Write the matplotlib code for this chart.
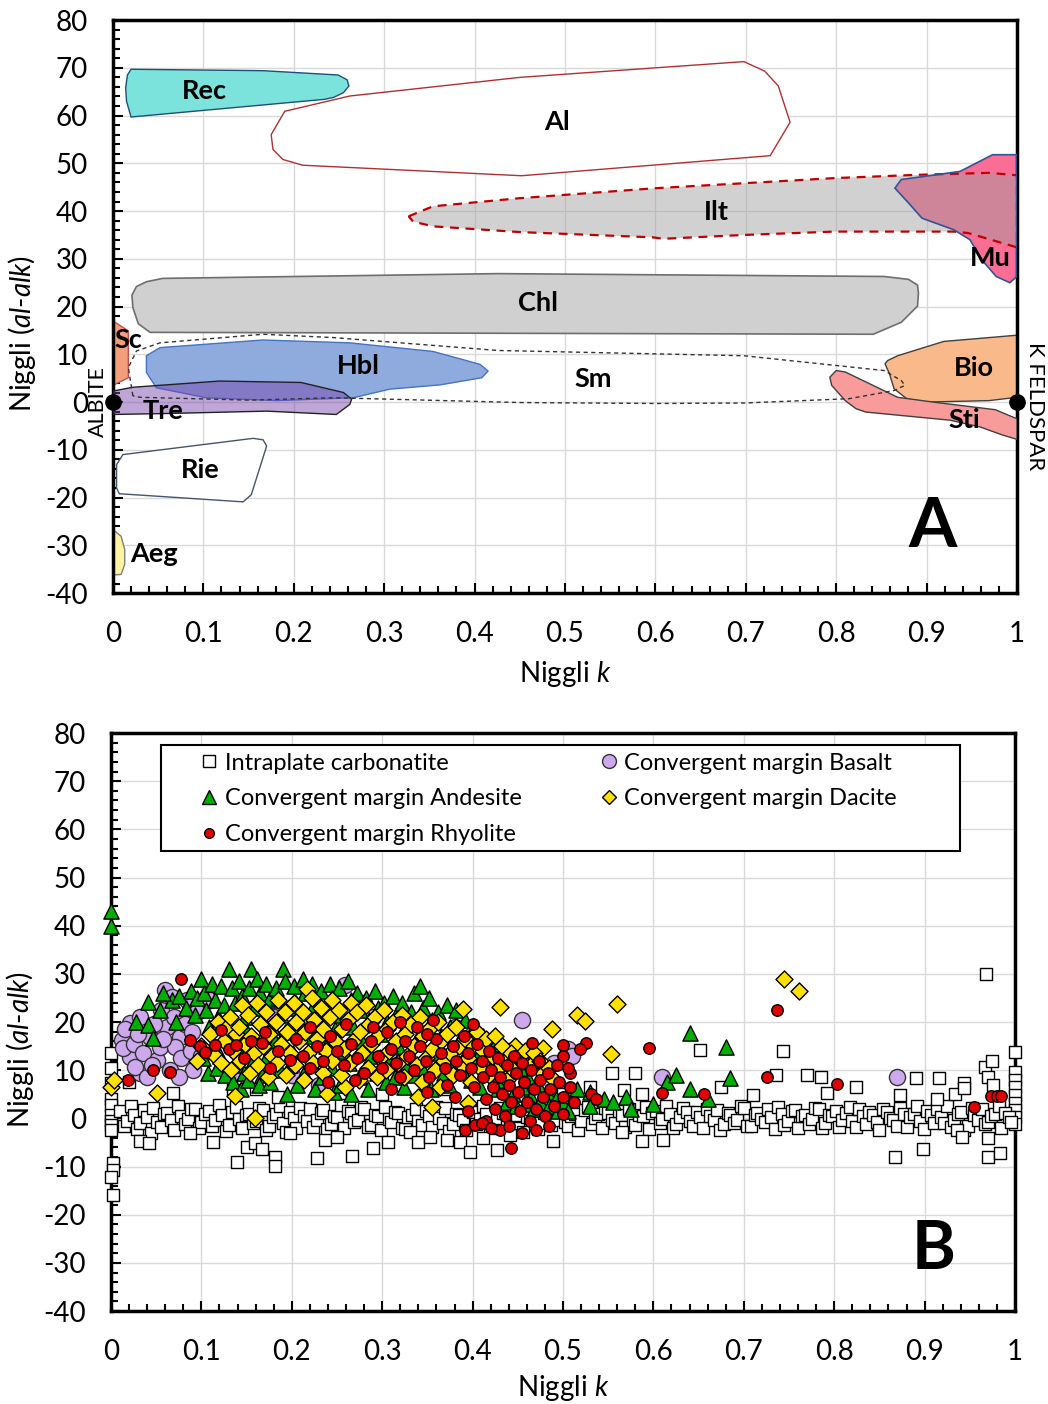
import matplotlib
matplotlib.use('Agg')
import matplotlib.pyplot as plt
from matplotlib.patches import Polygon, Rectangle
from matplotlib.lines import Line2D
from matplotlib.ticker import MultipleLocator, FuncFormatter
import numpy as np

plt.rcParams['font.family'] = ['Lato', 'DejaVu Sans']
plt.rcParams['mathtext.fontset'] = 'custom'
plt.rcParams['mathtext.rm'] = 'Lato'
plt.rcParams['mathtext.it'] = 'Lato:italic'
plt.rcParams['axes.unicode_minus'] = False

# ---------------- Panel A: mineral fields (Niggli k, al-alk) ----------------
rec_field = [(0.020, 69.7), (0.166, 69.4), (0.249, 68.5), (0.259, 67.5), (0.261, 66.2), (0.255, 64.8),
             (0.244, 63.8), (0.234, 63.4), (0.020, 59.7), (0.015, 63.0), (0.014, 65.8), (0.016, 68.5)]
al_field = [(0.190, 60.9), (0.262, 64.1), (0.450, 68.0), (0.698, 71.3), (0.721, 69.3), (0.736, 66.2),
            (0.749, 58.6), (0.727, 51.6), (0.452, 47.4), (0.210, 49.6), (0.188, 50.8), (0.177, 52.9),
            (0.175, 56.0)]
ilt_field = [(0.327, 38.9), (0.354, 41.0), (0.450, 42.7), (0.601, 44.8), (0.798, 46.9), (0.891, 47.6),
             (0.969, 48.0), (1.0, 47.5), (1.0, 32.4), (0.946, 35.4), (0.930, 35.7), (0.798, 35.7),
             (0.698, 35.0), (0.609, 34.2), (0.597, 34.5), (0.450, 35.6), (0.354, 36.8), (0.332, 37.8)]
mu_field = [(0.937, 48.3), (0.973, 51.8), (1.0, 51.8), (1.0, 26.3), (0.992, 25.0), (0.977, 26.3),
            (0.961, 29.8), (0.948, 34.0), (0.930, 36.1), (0.895, 38.5), (0.880, 41.7), (0.865, 44.8),
            (0.872, 46.6)]
chl_field = [(0.055, 25.9), (0.426, 26.9), (0.853, 26.3), (0.880, 25.7), (0.890, 24.5), (0.891, 22.8),
             (0.890, 20.1), (0.872, 16.7), (0.841, 14.2), (0.041, 14.6), (0.028, 16.4), (0.022, 19.8),
             (0.021, 22.4), (0.026, 24.2), (0.037, 25.2)]
sc_field = [(0.0, 17.0), (0.017, 14.9), (0.017, 5.1), (0.0, 3.5)]
sm_field = [(0.022, 1.3), (0.017, 7.2), (0.026, 10.7), (0.052, 12.4), (0.166, 14.2), (0.244, 13.5),
            (0.426, 10.8), (0.698, 9.7), (0.853, 6.6), (0.872, 4.5), (0.876, 3.5), (0.864, 2.4),
            (0.814, 0.7), (0.698, -0.2), (0.603, -0.3), (0.450, -0.1), (0.244, 0.9), (0.151, 0.4),
            (0.030, 1.0)]
hbl_field = [(0.037, 9.7), (0.052, 11.4), (0.166, 13.0), (0.262, 12.4), (0.354, 10.6), (0.406, 7.9),
             (0.415, 6.5), (0.408, 5.1), (0.362, 3.6), (0.306, 2.7), (0.266, 0.9), (0.181, 0.3),
             (0.103, 0.9), (0.048, 3.0), (0.037, 6.2)]
tre_field = [(0.0, 2.3), (0.022, 3.1), (0.118, 4.4), (0.208, 4.1), (0.255, 2.0), (0.264, 0.6),
             (0.262, -0.5), (0.247, -2.6), (0.170, -1.9), (0.059, -2.4), (0.0, -2.6)]
rie_field = [(0.011, -11.0), (0.155, -7.6), (0.166, -7.9), (0.170, -9.2), (0.153, -19.4), (0.144, -20.9),
             (0.007, -19.2), (0.004, -18.0), (0.004, -13.1)]
aeg_field = [(0.0, -26.7), (0.009, -28.1), (0.013, -30.9), (0.013, -34.0), (0.009, -36.1), (0.0, -36.2)]
bio_field = [(0.857, 8.7), (0.868, 9.7), (0.919, 12.7), (1.0, 14.0), (1.0, 1.0), (0.969, 0.3),
             (0.899, 0.0), (0.878, 0.7), (0.864, 2.8), (0.859, 5.9), (0.854, 8.0)]
sti_field = [(0.800, 6.6), (0.810, 6.3), (0.868, 1.0), (0.907, 0.0), (0.976, -1.6), (1.0, -3.5),
             (1.0, -7.8), (0.984, -6.9), (0.959, -5.2), (0.926, -3.8), (0.833, -2.1), (0.822, -1.4),
             (0.810, 0.3), (0.795, 3.5), (0.793, 5.2)]

field_labels = ['Rec', 'Al', 'Ilt', 'Mu', 'Chl', 'Sc', 'Hbl', 'Sm', 'Bio', 'Tre', 'Sti', 'Rie', 'Aeg']
label_k = [0.101, 0.491, 0.667, 0.970, 0.470, 0.016, 0.272, 0.531, 0.952, 0.055, 0.942, 0.096, 0.045]
label_al_alk = [65.1, 58.6, 39.8, 30.2, 20.7, 13.0, 7.5, 4.8, 7.1, -1.9, -3.8, -14.2, -31.8]

# ---------------- Panel B: samples ----------------
carbonatite = [
    # column at k = 0
    (0.0, 13.6), (0.0, 10.5), (0.0, 7.3), (0.0, 4.0), (0.0, 2.8), (0.0, 0.6), (0.0, -0.5), (0.0, -1.4),
    (0.0, -2.4), (0.002, -9.3), (0.002, -10.8), (0.0, -12.2), (0.002, -15.9),
    # column at k = 1
    (1.0, 13.8), (1.0, 9.7), (1.0, 7.9), (1.0, 6.5), (1.0, 4.8), (1.0, 3.1), (1.0, 1.7), (1.0, 0.3), (1.0, -1.1),
    # main band
    (0.010, 1.5), (0.014, -1.5), (0.018, -0.5), (0.022, 2.5), (0.025, 0.8), (0.029, -2.2), (0.032, -1.0),
    (0.036, 1.8), (0.040, 0.3), (0.044, -3.0), (0.047, 2.2), (0.051, -0.8), (0.055, -1.8), (0.059, 0.9),
    (0.062, 1.2), (0.066, -0.3), (0.070, -2.5), (0.074, 2.6), (0.078, 0.5), (0.082, -1.2), (0.085, -0.2),
    (0.089, 1.9), (0.093, 2.0), (0.097, -2.0), (0.100, -0.8), (0.104, 0.9), (0.108, 1.6), (0.112, -1.6),
    (0.115, -0.4), (0.119, 2.8), (0.123, 0.7), (0.127, -2.6), (0.130, -1.3), (0.134, 1.3), (0.138, 2.4),
    (0.142, -0.2), (0.145, -2.1), (0.149, 0.6), (0.153, 1.0), (0.157, -1.0), (0.160, -0.5), (0.164, 2.1),
    (0.168, 1.8), (0.172, -2.4), (0.175, -1.5), (0.179, 0.2), (0.183, 0.9), (0.187, 2.5), (0.190, -0.9),
    (0.194, -2.8), (0.198, 1.4), (0.202, 0.1), (0.205, -1.9), (0.209, 2.2), (0.213, 0.4), (0.217, -0.6),
    (0.220, 2.0), (0.224, -1.8), (0.228, -0.3), (0.232, 1.1), (0.235, 1.7), (0.239, -2.3), (0.243, -1.1),
    (0.247, 0.5), (0.250, 0.2), (0.254, 2.7), (0.258, -2.0), (0.262, 1.5), (0.265, 1.1), (0.269, -0.7),
    (0.273, -0.4), (0.277, 2.3), (0.280, 1.9), (0.284, -1.7), (0.288, -1.4), (0.292, 0.7), (0.295, 0.5),
    (0.299, -2.5), (0.303, 2.3), (0.307, -0.1), (0.310, -0.8), (0.314, 1.4), (0.318, 1.2), (0.322, -1.9),
    (0.325, -2.2), (0.329, 0.3), (0.333, 0.8), (0.337, 2.0), (0.340, -0.6), (0.344, -1.3), (0.348, 1.6),
    (0.352, 0.4), (0.355, -1.7), (0.359, 2.4), (0.363, 0.1), (0.367, -0.9), (0.370, 2.1), (0.374, -2.6),
    (0.378, -1.2), (0.382, 1.0), (0.385, 0.6), (0.389, -0.4), (0.393, -2.4), (0.397, 1.8), (0.400, 1.3),
    (0.404, -1.1), (0.408, -0.2), (0.412, 2.6), (0.415, 0.9), (0.419, -2.0), (0.423, -1.5), (0.427, 0.0),
    (0.430, 2.2), (0.434, 1.2), (0.438, -0.7), (0.442, -1.6), (0.445, 1.5), (0.449, 0.6), (0.453, -2.1),
    (0.457, 2.0), (0.460, 0.3), (0.464, -0.5), (0.468, 1.8), (0.472, -2.2), (0.475, -1.0), (0.479, 1.1),
    (0.483, 0.7), (0.487, -1.4), (0.490, -0.3), (0.494, 2.4), (0.498, 2.0), (0.502, -0.8), (0.505, -1.6),
    (0.509, 0.5), (0.513, 1.0), (0.517, -2.5), (0.520, -0.5), (0.524, 1.7), (0.528, 2.4), (0.532, -1.2),
    (0.535, 0.0), (0.539, 0.9), (0.543, -2.0), (0.547, 2.1), (0.550, 1.2), (0.554, -0.3), (0.558, -0.9),
    (0.562, 1.5), (0.565, 0.6), (0.569, -1.8), (0.573, 2.0), (0.577, -0.6), (0.580, -1.4), (0.584, 0.8),
    (0.588, 0.4), (0.592, 2.3), (0.595, -2.3), (0.599, 1.1), (0.603, 1.6), (0.607, -1.0), (0.610, -0.1),
    (0.614, 2.6), (0.618, 0.9), (0.622, -2.1), (0.625, -1.2), (0.629, 0.3), (0.633, 2.2), (0.637, 1.4),
    (0.640, -0.6), (0.644, -1.5), (0.648, 1.4), (0.652, 0.2), (0.655, -1.9), (0.659, 2.0), (0.663, 0.5),
    (0.667, -0.4), (0.670, 1.7), (0.674, -2.4), (0.678, -1.1), (0.682, 1.2), (0.685, 0.8), (0.689, -0.9),
    (0.693, -0.4), (0.697, 2.5), (0.700, 2.1), (0.704, -1.6), (0.708, -1.5), (0.712, 0.6), (0.715, 1.1),
    (0.719, -0.2), (0.723, -0.7), (0.727, 1.9), (0.730, 0.2), (0.734, -2.3), (0.738, 2.3), (0.742, 0.9),
    (0.745, -1.3), (0.749, -0.6), (0.753, 1.5), (0.757, 1.7), (0.760, -2.1), (0.764, 0.4), (0.768, 0.7),
    (0.772, -1.2), (0.775, -0.2), (0.779, 2.2), (0.783, 1.9), (0.787, -2.0), (0.790, -0.9), (0.794, 0.8),
    (0.798, 0.4), (0.802, 1.5), (0.805, -1.7), (0.809, -0.3), (0.813, 1.2), (0.817, 2.4), (0.820, -0.5),
    (0.824, -1.8), (0.828, 2.0), (0.832, 0.5), (0.835, -1.2), (0.839, 1.3), (0.843, 0.6), (0.847, -0.8),
    (0.850, -2.4), (0.854, 2.0), (0.858, 1.4), (0.862, 0.0), (0.865, -0.3), (0.869, -1.5), (0.873, 2.2),
    (0.877, 1.0), (0.880, -1.8), (0.884, 0.3), (0.888, 0.9), (0.892, 2.6), (0.895, -0.6), (0.899, -2.2),
    (0.903, 1.6), (0.907, 0.7), (0.910, -1.0), (0.914, 1.9), (0.918, 0.2), (0.922, -0.9), (0.925, 2.5),
    (0.929, -1.7), (0.933, -0.4), (0.937, 0.9), (0.940, 1.3), (0.944, -2.4), (0.948, -1.5), (0.952, 2.2),
    (0.955, 0.6), (0.959, -0.3), (0.963, 1.9), (0.967, -1.1), (0.970, -0.8), (0.974, 0.4), (0.978, 0.9),
    (0.982, 2.6), (0.985, -2.0), (0.989, 1.2), (0.993, 0.3), (0.996, -0.7),
    # scattered above the band
    (0.968, 30.0), (0.652, 14.2), (0.743, 14.0), (0.554, 9.4), (0.736, 9.0), (0.770, 9.0), (0.785, 8.6),
    (0.824, 6.5), (0.891, 8.4), (0.916, 8.4), (0.944, 7.3), (0.967, 10.7), (0.975, 11.9), (0.970, 8.6),
    (0.976, 6.9), (0.568, 5.9), (0.587, 5.0), (0.675, 6.5), (0.710, 4.8), (0.792, 5.2), (0.873, 4.8),
    (0.914, 4.0), (0.934, 5.0), (0.944, 6.3), (0.020, 7.5), (0.069, 5.3), (0.135, 5.9), (0.160, 6.0),
    (0.185, 4.5), (0.240, 6.5), (0.300, 5.0), (0.320, 7.0), (0.370, 6.0), (0.450, 4.0), (0.500, 5.0),
    (0.530, 6.5), (0.580, 9.5),
    # scattered below the band
    (0.032, -4.7), (0.042, -5.1), (0.087, -3.0), (0.113, -4.9), (0.139, -9.1), (0.181, -8.0), (0.181, -9.9),
    (0.150, -5.9), (0.159, -5.1), (0.167, -6.4), (0.198, -3.0), (0.228, -8.2), (0.237, -4.5), (0.250, -3.9),
    (0.267, -7.8), (0.290, -6.2), (0.306, -4.9), (0.331, -2.8), (0.340, -4.9), (0.353, -3.9), (0.372, -4.5),
    (0.386, -4.9), (0.397, -7.0), (0.411, -4.1), (0.427, -6.6), (0.441, -3.5), (0.456, -2.8), (0.489, -4.7),
    (0.587, -4.7), (0.611, -4.5), (0.867, -8.0), (0.898, -6.4), (0.970, -8.0), (0.983, -7.2), (0.565, -2.8),
    (0.936, -2.4), (0.941, -3.9), (0.970, -4.1)]

basalt = [
    (0.012, 16.3), (0.021, 19.8), (0.032, 21.0), (0.021, 12.7), (0.032, 9.4), (0.051, 12.1), (0.060, 26.6),
    (0.067, 25.2), (0.043, 16.9), (0.054, 14.8), (0.076, 16.9), (0.091, 10.0), (0.065, 10.0), (0.084, 24.6),
    (0.071, 14.8), (0.027, 10.7), (0.040, 8.6), (0.062, 19.0), (0.013, 14.6), (0.015, 18.5), (0.025, 15.5),
    (0.035, 13.5), (0.045, 11.0), (0.048, 19.5), (0.055, 22.5), (0.070, 21.0), (0.078, 12.5), (0.082, 19.5),
    (0.088, 14.0), (0.030, 17.5), (0.058, 16.5), (0.075, 8.5), (0.090, 18.0), (0.095, 22.0), (0.100, 13.0),
    (0.105, 25.0), (0.110, 24.5), (0.140, 9.5), (0.180, 21.0), (0.200, 9.0), (0.230, 7.0), (0.259, 27.7),
    (0.280, 24.0), (0.290, 21.0), (0.310, 12.0), (0.330, 20.0), (0.380, 19.0), (0.400, 17.5), (0.440, 14.0),
    (0.455, 20.5), (0.460, 13.5), (0.490, 11.5), (0.505, 14.5), (0.510, 13.0), (0.610, 8.5), (0.870, 8.5)]

andesite = [
    (0.0, 43), (0.0, 40),
    (0.028, 20.1), (0.041, 24.2), (0.054, 22.5), (0.067, 24.6), (0.041, 19.4), (0.047, 16.7),
    (0.058, 26), (0.075, 25.5), (0.072, 20), (0.083, 23), (0.088, 26.5), (0.093, 21.5), (0.095, 25),
    (0.10, 29), (0.103, 26), (0.105, 22.5), (0.108, 19), (0.102, 12.5), (0.107, 9.5),
    (0.112, 28), (0.115, 24.5), (0.118, 21), (0.113, 15), (0.117, 10.5),
    (0.122, 27.5), (0.125, 23.5), (0.128, 19.5), (0.121, 13), (0.126, 9),
    (0.13, 31), (0.134, 27), (0.137, 24), (0.132, 17.5), (0.138, 11), (0.135, 7.5),
    (0.142, 28.5), (0.145, 25.5), (0.148, 21), (0.141, 14.5), (0.147, 9.5), (0.144, 6),
    (0.155, 31), (0.153, 27), (0.158, 23), (0.151, 18), (0.157, 12), (0.152, 8),
    (0.162, 29), (0.165, 26), (0.168, 20.5), (0.161, 15.5), (0.167, 9), (0.164, 7),
    (0.172, 28), (0.175, 24.5), (0.178, 19), (0.171, 12.5), (0.176, 7.5),
    (0.182, 27), (0.185, 25), (0.188, 21.5), (0.181, 16), (0.187, 10),
    (0.19, 31), (0.193, 28.5), (0.196, 23), (0.192, 18), (0.198, 11), (0.195, 5),
    (0.202, 27.5), (0.205, 24), (0.208, 20), (0.201, 13.5), (0.206, 7),
    (0.212, 29), (0.215, 26), (0.218, 17), (0.214, 9.5),
    (0.222, 28), (0.225, 23.5), (0.228, 19.5), (0.221, 12), (0.226, 6),
    (0.232, 26.5), (0.235, 22), (0.238, 15), (0.233, 8.5),
    (0.242, 28), (0.245, 25), (0.248, 18.5), (0.244, 10.5), (0.247, 5.5),
    (0.252, 27), (0.255, 21.5), (0.258, 14), (0.253, 7),
    (0.262, 28.5), (0.265, 24.5), (0.268, 19), (0.263, 11.5), (0.266, 5),
    (0.272, 26), (0.275, 22.5), (0.278, 16), (0.274, 8.5),
    (0.282, 25), (0.285, 20.5), (0.288, 13), (0.284, 6),
    (0.292, 26.5), (0.295, 23), (0.298, 17.5), (0.294, 9.5),
    (0.302, 24), (0.305, 20), (0.308, 12), (0.304, 7.5),
    (0.312, 25.5), (0.315, 21.5), (0.318, 15), (0.314, 8.5),
    (0.322, 24), (0.325, 19), (0.328, 11), (0.324, 6.5),
    (0.335, 26), (0.332, 22), (0.338, 16.5), (0.336, 9),
    (0.342, 27.5), (0.345, 23), (0.348, 18), (0.344, 10.5),
    (0.352, 25), (0.355, 20.5), (0.358, 13.5), (0.354, 6),
    (0.362, 22), (0.365, 17), (0.368, 9.5),
    (0.372, 23.5), (0.375, 19), (0.378, 12), (0.374, 7),
    (0.382, 22.5), (0.385, 16), (0.388, 10),
    (0.392, 20.5), (0.395, 14.5), (0.398, 8),
    (0.402, 19), (0.405, 12.5), (0.408, 6.5),
    (0.412, 17), (0.415, 9.5), (0.425, 15.5), (0.422, 11), (0.428, 6),
    (0.432, 14), (0.435, 8), (0.438, 3.5), (0.442, 12), (0.445, 5), (0.448, 2.5),
    (0.452, 10.5), (0.455, 6.5), (0.458, 3), (0.462, 8), (0.465, 4.5), (0.468, 2),
    (0.472, 7), (0.475, 3.5), (0.482, 5.5), (0.485, 2.5), (0.492, 4), (0.495, 1.5),
    (0.50, 3), (0.505, 5.5), (0.515, 6), (0.53, 5.5), (0.545, 4), (0.555, 3.5), (0.57, 4.5), (0.575, 2),
    (0.60, 3), (0.615, 7.5), (0.625, 9), (0.64, 17.7), (0.64, 6), (0.66, 4), (0.68, 14.8), (0.685, 8.4),
    (0.53, 2.5), (0.505, 1.5)]

dacite = [
    (0.0, 6.5), (0.003, 8.0), (0.051, 5.3), (0.137, 4.6), (0.159, 0.0), (0.239, 5.1), (0.259, 6.5),
    (0.340, 4.4), (0.355, 2.4), (0.395, 3.1), (0.217, 26.9), (0.389, 22.7), (0.430, 23.1), (0.488, 18.5),
    (0.515, 21.5), (0.524, 20.2), (0.553, 13.4), (0.560, 23.7), (0.745, 28.9), (0.761, 26.4), (0.478, 14.6),
    (0.447, 15.0),
    (0.095, 12), (0.10, 15), (0.11, 17.5), (0.115, 13), (0.118, 20),
    (0.125, 16), (0.122, 11.5), (0.128, 19), (0.132, 21), (0.135, 14), (0.138, 17.5), (0.133, 10),
    (0.142, 19), (0.145, 23.5), (0.148, 15.5), (0.143, 12), (0.152, 21.5), (0.155, 17), (0.158, 13.5),
    (0.154, 9.5), (0.162, 24), (0.165, 19.5), (0.168, 15), (0.163, 11), (0.172, 22), (0.175, 17.5),
    (0.178, 13), (0.174, 8.5), (0.182, 20), (0.185, 24.5), (0.188, 15.5), (0.184, 11.5),
    (0.192, 22), (0.195, 18), (0.198, 13.5), (0.194, 9), (0.202, 24), (0.205, 20), (0.208, 16), (0.204, 11),
    (0.212, 22), (0.215, 18), (0.218, 13.5), (0.214, 8), (0.222, 25), (0.225, 20.5), (0.228, 16.5),
    (0.224, 11.5), (0.232, 23), (0.235, 18.5), (0.238, 14), (0.234, 9.5), (0.242, 21), (0.245, 24.5),
    (0.248, 16), (0.244, 12), (0.252, 22.5), (0.255, 18.5), (0.258, 14.5), (0.254, 9),
    (0.262, 20.5), (0.265, 24), (0.268, 16), (0.264, 11.5), (0.272, 22), (0.275, 18), (0.278, 13.5),
    (0.274, 8), (0.282, 23.5), (0.285, 19.5), (0.288, 15.5), (0.284, 10.5), (0.292, 21), (0.295, 17),
    (0.298, 12.5), (0.294, 8.5), (0.302, 22.5), (0.305, 18.5), (0.308, 14), (0.304, 10),
    (0.312, 20), (0.315, 16), (0.318, 11.5), (0.322, 21.5), (0.325, 17.5), (0.328, 13), (0.324, 8.5),
    (0.332, 19.5), (0.335, 15), (0.338, 11), (0.342, 21), (0.345, 17), (0.348, 12.5), (0.344, 7.5),
    (0.352, 18.5), (0.355, 14.5), (0.358, 10), (0.362, 20), (0.365, 16), (0.368, 12), (0.364, 6.5),
    (0.372, 17.5), (0.375, 13.5), (0.378, 9), (0.382, 19), (0.385, 15), (0.388, 11),
    (0.392, 16.5), (0.395, 12.5), (0.398, 7.5), (0.402, 15), (0.405, 18), (0.408, 10.5),
    (0.412, 14), (0.415, 16.5), (0.418, 9), (0.422, 13), (0.425, 17), (0.428, 10.5),
    (0.432, 15), (0.435, 12), (0.438, 8), (0.442, 13.5), (0.445, 10), (0.455, 12), (0.458, 14),
    (0.465, 11), (0.468, 13.5), (0.475, 12), (0.478, 9.5), (0.485, 10.5), (0.490, 8)]

rhyolite = [
    (0.078, 28.9), (0.019, 8.0), (0.047, 10.0), (0.065, 9.7), (0.737, 22.5), (0.595, 14.6), (0.500, 15.2),
    (0.525, 15.6), (0.519, 14.4), (0.500, 13.0), (0.466, 15.6), (0.726, 8.6), (0.803, 7.1), (0.609, 5.2),
    (0.656, 5.0), (0.531, 5.0), (0.537, 4.0), (0.955, 2.4), (0.974, 4.6), (0.980, 4.6), (0.985, 4.6),
    (0.512, 3.3), (0.508, 9.4), (0.392, -2.4), (0.403, -1.4), (0.430, -2.4), (0.443, -6.1), (0.415, -0.5),
    (0.087, 16.2), (0.098, 15.0), (0.104, 13.8), (0.115, 15.2), (0.122, 18.3), (0.130, 14.5), (0.138, 15.2),
    (0.147, 12.5), (0.155, 16.0), (0.167, 15.6), (0.176, 10.5), (0.185, 14.0), (0.198, 12.1), (0.205, 16.5),
    (0.212, 13.0), (0.220, 10.5), (0.228, 15.0), (0.235, 12.0), (0.242, 17.0), (0.250, 14.0), (0.258, 11.0),
    (0.265, 15.5), (0.272, 12.5), (0.280, 9.5), (0.288, 16.0), (0.295, 13.0), (0.300, 10.5), (0.305, 18.0),
    (0.310, 14.5), (0.315, 11.5), (0.320, 8.5), (0.325, 16.0), (0.330, 13.0), (0.335, 10.0), (0.338, 19.0),
    (0.342, 15.0), (0.348, 12.0), (0.352, 8.5), (0.356, 20.4), (0.360, 16.5), (0.365, 13.5), (0.370, 10.5),
    (0.372, 7.0), (0.378, 15.0), (0.382, 12.0), (0.386, 9.0), (0.390, 17.0), (0.395, 13.5), (0.398, 10.5),
    (0.402, 6.5), (0.405, 15.5), (0.410, 12.0), (0.412, 8.5), (0.415, 4.0), (0.418, 14.0), (0.420, 10.0),
    (0.423, 6.5), (0.425, 2.0), (0.428, 12.5), (0.430, 8.5), (0.433, 5.0), (0.436, 0.5), (0.438, 11.0),
    (0.440, 7.0), (0.443, 3.5), (0.446, 13.0), (0.448, 9.5), (0.450, 5.5), (0.452, 1.5), (0.455, 11.5),
    (0.457, 7.5), (0.460, 3.5), (0.463, -0.5), (0.465, 10.0), (0.468, 6.0), (0.470, 2.0), (0.473, 12.0),
    (0.475, 8.0), (0.478, 4.5), (0.480, 0.5), (0.483, 9.5), (0.486, 6.0), (0.490, 2.5), (0.493, 11.0),
    (0.496, 7.5), (0.500, 4.5), (0.505, 10.5), (0.508, 6.5), (0.220, 19.0), (0.170, 18.0), (0.260, 19.5),
    (0.290, 19.0), (0.320, 20.0), (0.400, 19.5), (0.350, 17.5), (0.270, 8.0), (0.240, 7.5), (0.310, 6.0),
    (0.350, 5.5), (0.380, 4.5), (0.395, 1.5), (0.410, -1.0), (0.420, -2.0), (0.455, -3.0), (0.440, -1.5),
    (0.470, -2.5), (0.485, -1.5), (0.500, 1.0)]

series_names = ['Intraplate carbonatite', 'Convergent margin Basalt', 'Convergent margin Andesite',
                'Convergent margin Dacite', 'Convergent margin Rhyolite']

# ---------------- Figure ----------------
fig = plt.figure(figsize=(10.48, 14.04), dpi=100)
axA = fig.add_axes([0.1078, 0.5776, 0.8626, 0.4081])
axB = fig.add_axes([0.1059, 0.0662, 0.8626, 0.4117])


def style(ax, xlab_y):
    ax.set_xlim(0, 1)
    ax.set_ylim(-40, 80)
    ax.xaxis.set_major_locator(MultipleLocator(0.1))
    ax.xaxis.set_minor_locator(MultipleLocator(0.02))
    ax.yaxis.set_major_locator(MultipleLocator(10))
    ax.yaxis.set_minor_locator(MultipleLocator(2))
    ax.xaxis.set_major_formatter(FuncFormatter(lambda v, p: f'{v:.1f}'.rstrip('0').rstrip('.') if abs(v) > 1e-9 else '0'))
    ax.grid(True, which='major', color='#d9d9d9', lw=1.0)
    ax.set_axisbelow(True)
    for s in ax.spines.values():
        s.set_linewidth(2.5)
        s.set_color('black')
    ax.tick_params(which='both', direction='in', top=False, right=False, colors='black', width=1.5)
    ax.tick_params(which='major', length=7, labelsize=20)
    ax.tick_params(which='minor', length=5)
    ax.tick_params(axis='x', which='major', pad=20)
    ax.tick_params(axis='y', which='major', pad=18)
    ax.set_xlabel('Niggli $\\mathit{k}$', fontsize=20)
    ax.set_ylabel('Niggli ($\\mathit{al}$-$\\mathit{alk}$)', fontsize=20)
    ax.xaxis.set_label_coords(0.5, xlab_y)
    ax.yaxis.set_label_coords(-0.083, 0.452)


style(axA, -0.115)
style(axB, -0.108)


def field(ax, pts, fc='none', ec='black', lw=1.0, ls='-', z=2):
    p = Polygon(pts, closed=True, facecolor=fc, edgecolor=ec, lw=lw, ls=ls, zorder=z)
    ax.add_patch(p)
    return p


field(axA, rec_field, fc='#7BE3DB', ec='#1F4E79', lw=1.0)
field(axA, al_field, fc='white', ec='#B03030', lw=1.0)
field(axA, mu_field, fc='#FA6E96', ec='none', z=2)
field(axA, ilt_field, fc=(0.62, 0.62, 0.62, 0.47), ec='none', z=3)
field(axA, ilt_field, fc='none', ec='#C00000', lw=1.6, ls=(0, (4, 3)), z=4)
field(axA, mu_field, fc='none', ec='#2F5597', lw=1.2, z=4)
field(axA, chl_field, fc='#D0D0D0', ec='#6E6E6E', lw=1.2)
field(axA, sc_field, fc='#F3A07A', ec='#C0504D', lw=1.0)
field(axA, hbl_field, fc='#8FAADC', ec='#4472C4', lw=1.0)
field(axA, tre_field, fc=(0.47, 0.27, 0.67, 0.48), ec='#222222', lw=1.0, z=3)
field(axA, rie_field, fc='white', ec='#44546A', lw=1.0)
field(axA, aeg_field, fc='#FFF2A0', ec='#7F7F7F', lw=1.0)
field(axA, bio_field, fc='#F9B98B', ec='#404040', lw=1.0)
field(axA, sti_field, fc='#F99B9B', ec='#404040', lw=1.0, z=3)
field(axA, sm_field, fc='none', ec='#333333', lw=1.0, ls=(0, (3, 2.5)), z=5)

for name, kx, ky in zip(field_labels, label_k, label_al_alk):
    ha = 'left' if name == 'Sc' else 'center'
    axA.text(kx if name != 'Sc' else 0.002, ky, name, fontsize=19.5, fontweight='bold', ha=ha, va='center', zorder=8)

axA.plot([0, 1], [0, 0], 'o', color='black', ms=11, clip_on=False, zorder=10)
axA.text(-0.0166, 0.2, 'ALBITE', rotation=90, ha='center', va='center', fontsize=15.5)
axA.text(1.02, -0.8, 'K FELDSPAR', rotation=-90, ha='center', va='center', fontsize=16)
axA.text(0.907, -26.2, 'A', fontsize=50, fontweight='bold', ha='center', va='center', zorder=8)

# ---------------- Panel B scatter ----------------
carb_k, carb_y = np.array(carbonatite).T
bas_k, bas_y = np.array(basalt).T
and_k, and_y = np.array(andesite).T
dac_k, dac_y = np.array(dacite).T
rhy_k, rhy_y = np.array(rhyolite).T

axB.scatter(carb_k, carb_y, marker='s', s=85, facecolor='white', edgecolor='black', lw=1.0, zorder=3, clip_on=False)
axB.scatter(bas_k, bas_y, marker='o', s=135, facecolor='#CDA8EC', edgecolor='#333333', lw=1.0, zorder=4, clip_on=False)
axB.scatter(and_k, and_y, marker='^', s=120, facecolor='#00B000', edgecolor='black', lw=1.0, zorder=5, clip_on=False)
axB.scatter(dac_k, dac_y, marker='D', s=75, facecolor='#FFE000', edgecolor='black', lw=1.0, zorder=6, clip_on=False)
axB.scatter(rhy_k, rhy_y, marker='o', s=68, facecolor='#E00000', edgecolor='black', lw=1.0, zorder=7, clip_on=False)

# legend frame and entries
axB.add_patch(Rectangle((0.0553, 0.7958), 0.8839, 0.1832, transform=axB.transAxes, facecolor='white',
                        edgecolor='black', lw=1.5, zorder=19))
handles = [
    Line2D([], [], marker='s', ls='none', ms=8, mfc='white', mec='black', mew=1.0),
    Line2D([], [], marker='^', ls='none', ms=10, mfc='#00B000', mec='black', mew=1.0),
    Line2D([], [], marker='o', ls='none', ms=7, mfc='#E00000', mec='black', mew=1.0),
    Line2D([], [], marker='o', ls='none', ms=10, mfc='#CDA8EC', mec='#333333', mew=1.0),
    Line2D([], [], marker='D', ls='none', ms=7, mfc='#FFE000', mec='black', mew=1.0),
]
labels = [series_names[0], series_names[2], series_names[4], series_names[1], series_names[3]]
leg = axB.legend(handles, labels, ncol=2, loc='upper left', bbox_to_anchor=(0.0985, 0.966),
                 fontsize=17, frameon=False, handlelength=0.8, handletextpad=0.25, labelspacing=0.62,
                 borderpad=0.0, borderaxespad=0.0, columnspacing=3.3)
leg.set_zorder(20)

axB.text(0.910, -27.3, 'B', fontsize=48, fontweight='bold', ha='center', va='center', zorder=8)

fig.savefig('out.png', dpi=100)
